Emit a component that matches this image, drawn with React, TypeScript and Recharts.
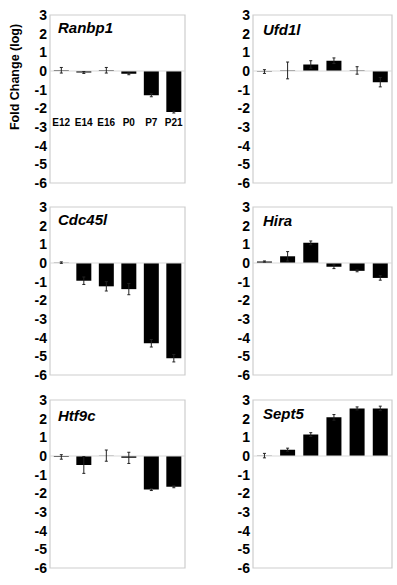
import React from 'react';
import { BarChart, Bar, XAxis, YAxis, ReferenceLine, ReferenceArea, ErrorBar } from 'recharts';

const categories = ['E12', 'E14', 'E16', 'P0', 'P7', 'P21'];
const yTicks = [3, 2, 1, 0, -1, -2, -3, -4, -5, -6];

const ranbp1Values = [0.04, -0.08, 0.04, -0.15, -1.3, -2.2];
const ranbp1Errors = [0.15, 0.05, 0.15, 0.05, 0.08, 0.05];

const ufd1lValues = [-0.03, 0.03, 0.35, 0.55, 0.03, -0.6];
const ufd1lErrors = [0.1, 0.45, 0.2, 0.15, 0.2, 0.25];

const cdc45lValues = [0.02, -0.95, -1.25, -1.4, -4.3, -5.1];
const cdc45lErrors = [0.04, 0.2, 0.25, 0.3, 0.2, 0.2];

const hiraValues = [0.08, 0.36, 1.08, -0.2, -0.42, -0.8];
const hiraErrors = [0.03, 0.25, 0.1, 0.1, 0.05, 0.12];

const htf9cValues = [-0.05, -0.48, 0.02, -0.1, -1.8, -1.65];
const htf9cErrors = [0.12, 0.45, 0.3, 0.3, 0.05, 0.05];

const sept5Values = [0.02, 0.34, 1.15, 2.07, 2.55, 2.55];
const sept5Errors = [0.12, 0.08, 0.1, 0.15, 0.08, 0.12];

const FONT = '"Liberation Sans", Arial, Helvetica, sans-serif';

const panels = [
  { title: 'Ranbp1', values: ranbp1Values, errors: ranbp1Errors, left: 0, top: 0, yw: 50, rm: 12, labels: true, tx: 58, ty: 33 },
  { title: 'Ufd1l', values: ufd1lValues, errors: ufd1lErrors, left: 200, top: 0, yw: 53, rm: 5, labels: false, tx: 263, ty: 35 },
  { title: 'Cdc45l', values: cdc45lValues, errors: cdc45lErrors, left: 0, top: 192, yw: 50, rm: 12, labels: false, tx: 58, ty: 225 },
  { title: 'Hira', values: hiraValues, errors: hiraErrors, left: 200, top: 192, yw: 53, rm: 5, labels: false, tx: 263, ty: 226 },
  { title: 'Htf9c', values: htf9cValues, errors: htf9cErrors, left: 0, top: 385, yw: 50, rm: 12, labels: false, tx: 58, ty: 421 },
  { title: 'Sept5', values: sept5Values, errors: sept5Errors, left: 200, top: 385, yw: 53, rm: 5, labels: false, tx: 263, ty: 419 },
];

const XTick = (props: any) => {
  const { x, y, payload } = props;
  return (
    <text x={x} y={y} dy={-57} textAnchor="middle" fontSize={10} fontWeight="bold" fill="#000" fontFamily={FONT}>
      {payload.value}
    </text>
  );
};

function Panel(p: any) {
  const data = categories.map((c, i) => ({ cat: c, v: p.values[i], e: p.errors[i] }));
  return (
    <div style={{ position: 'absolute', left: p.left, top: p.top }}>
      <BarChart
        width={197}
        height={192}
        data={data}
        margin={{ top: 15, right: p.rm, bottom: 8, left: 0 }}
        barCategoryGap="17%"
        style={{ fontFamily: FONT }}
      >
        <ReferenceArea y1={-6} y2={3} fill="none" fillOpacity={0} stroke="#cdcdcd" strokeWidth={1.2} />
        <ReferenceLine y={0} stroke="#dadada" strokeWidth={1.2} />
        <XAxis
          dataKey="cat"
          height={1}
          axisLine={false}
          tickLine={false}
          tickSize={0}
          tickMargin={0}
          interval={0}
          tick={p.labels ? <XTick /> : false}
        />
        <YAxis
          type="number"
          width={p.yw}
          domain={[-6, 3]}
          ticks={yTicks}
          interval={0}
          allowDataOverflow
          axisLine={false}
          tickLine={false}
          tickSize={0}
          tickMargin={3}
          tick={{ fill: '#000', fontSize: 14, fontWeight: 'bold', fontFamily: FONT }}
        />
        <Bar dataKey="v" fill="#000" isAnimationActive={false}>
          <ErrorBar dataKey="e" width={1.5} stroke="#222" strokeWidth={1} direction="y" />
        </Bar>
      </BarChart>
    </div>
  );
}

export default function App() {
  return (
    <div style={{ position: 'absolute', left: 0, top: 0, width: 397, height: 585, background: '#fff', fontFamily: FONT }}>
      {panels.map((p) => (
        <Panel key={p.title} {...p} />
      ))}
      <svg width={397} height={585} style={{ position: 'absolute', left: 0, top: 0, pointerEvents: 'none' }}>
        <text
          x={15}
          y={77}
          transform="rotate(-90 15 77)"
          textAnchor="middle"
          dominantBaseline="central"
          fontSize={12.5}
          fontWeight="bold"
          fontFamily={FONT}
          fill="#000"
        >
          Fold Change (log)
        </text>
        {panels.map((p) => (
          <text key={p.title} x={p.tx} y={p.ty} fontSize={15} fontWeight="bold" fontStyle="italic" fontFamily={FONT} fill="#000">
            {p.title}
          </text>
        ))}
      </svg>
    </div>
  );
}
